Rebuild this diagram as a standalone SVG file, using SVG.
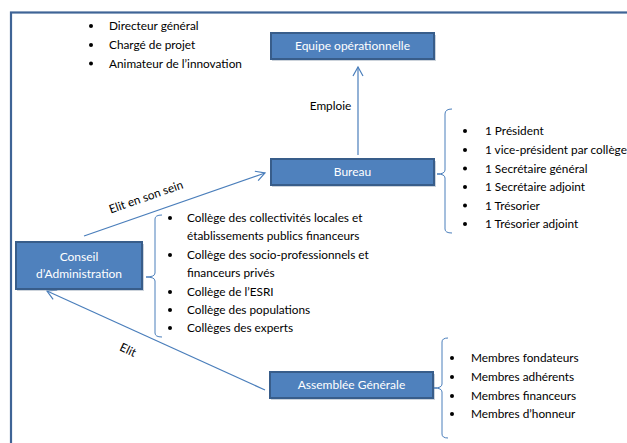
<svg xmlns="http://www.w3.org/2000/svg" width="627" height="443" viewBox="0 0 627 443">
<style>
.box{fill:#4F81BD;stroke:#385D8A;stroke-width:2}
.shadow{fill:#9aa8b8;opacity:0.5}
.bt{font-family:Lato,"Liberation Sans",sans-serif;font-size:12px;fill:#ffffff;text-anchor:middle}
.t{font-family:Lato,"Liberation Sans",sans-serif;font-size:11.8px;fill:#000000}
.lbl{font-family:Lato,"Liberation Sans",sans-serif;font-size:11.8px;fill:#000000}
.con{fill:none;stroke:#4A7EBB;stroke-width:1.2}
.br{fill:none;stroke:#4A7EBB;stroke-width:1}
.dot{fill:#000000}
</style>
<defs>
<marker id="arr" markerWidth="12" markerHeight="12" refX="10" refY="6" orient="auto" markerUnits="userSpaceOnUse">
<path d="M1,1 L10,6 L1,11" fill="none" stroke="#4A7EBB" stroke-width="1.2"/>
</marker>
</defs>
<rect width="627" height="443" fill="#ffffff"/>
<rect x="11" y="12.5" width="700" height="500" fill="none" stroke="#3F6496" stroke-width="2.2"/>

<g id="connectors">
<line class="con" x1="358" y1="155" x2="358" y2="67" marker-end="url(#arr)"/>
<line class="con" x1="84" y1="236" x2="265" y2="173" marker-end="url(#arr)"/>
<line class="con" x1="265" y1="390" x2="47" y2="291" marker-end="url(#arr)"/>
<text class="lbl" x="330.5" y="110" text-anchor="middle">Emploie</text>
<text class="lbl" x="146" y="201" text-anchor="middle" transform="rotate(-19.2 146 197)">Elit en son sein</text>
<text class="lbl" x="128" y="354" text-anchor="middle" transform="rotate(25 128 350)">Elit</text>
</g>

<g id="equipe">
<rect class="shadow" x="272" y="35" width="164" height="26"/>
<rect class="box" x="271" y="33" width="163" height="26"/>
<text class="bt" x="352.5" y="50">Equipe opérationnelle</text>
</g>

<g id="bureau">
<rect class="shadow" x="272" y="161" width="164" height="26"/>
<rect class="box" x="271" y="159" width="163" height="26"/>
<text class="bt" x="352.5" y="176">Bureau</text>
</g>

<g id="conseil">
<rect class="shadow" x="17" y="244" width="127" height="47"/>
<rect class="box" x="16" y="242" width="126" height="47"/>
<text class="bt" x="79" y="261">Conseil</text>
<text class="bt" x="79" y="278">d’Administration</text>
</g>

<g id="assemblee">
<rect class="shadow" x="271" y="374" width="164" height="26"/>
<rect class="box" x="270" y="372" width="163" height="26"/>
<text class="bt" x="351.5" y="389">Assemblée Générale</text>
</g>

<g id="liste-equipe">
<circle class="dot" cx="91" cy="26" r="2"/>
<circle class="dot" cx="91" cy="45" r="2"/>
<circle class="dot" cx="91" cy="63.5" r="2"/>
<text class="t" x="109" y="30">Directeur général</text>
<text class="t" x="109" y="49">Chargé de projet</text>
<text class="t" x="109" y="67.5">Animateur de l’innovation</text>
</g>

<g id="liste-bureau">
<path class="br" d="M452,109 Q445,109 445,114 L445,170 Q445,174 437,174 Q445,174 445,178 L445,229 Q445,233 452,233"/>
<circle class="dot" cx="465" cy="131" r="2"/>
<circle class="dot" cx="465" cy="150" r="2"/>
<circle class="dot" cx="465" cy="168.5" r="2"/>
<circle class="dot" cx="465" cy="187" r="2"/>
<circle class="dot" cx="465" cy="205.5" r="2"/>
<circle class="dot" cx="465" cy="224" r="2"/>
<text class="t" x="485" y="135">1 Président</text>
<text class="t" x="485" y="154">1 vice-président par collège</text>
<text class="t" x="485" y="172.5">1 Secrétaire général</text>
<text class="t" x="485" y="191">1 Secrétaire adjoint</text>
<text class="t" x="485" y="209.5">1 Trésorier</text>
<text class="t" x="485" y="228">1 Trésorier adjoint</text>
</g>

<g id="liste-conseil">
<path class="br" d="M162,215 Q155,215 155,219 L155,273 Q155,277 146,277 Q155,277 155,281 L155,333 Q155,337 162,337"/>
<circle class="dot" cx="170" cy="218" r="2"/>
<circle class="dot" cx="170" cy="255" r="2"/>
<circle class="dot" cx="170" cy="292" r="2"/>
<circle class="dot" cx="170" cy="310" r="2"/>
<circle class="dot" cx="170" cy="328" r="2"/>
<text class="t" x="187" y="222">Collège des collectivités locales et</text>
<text class="t" x="187" y="240">établissements publics financeurs</text>
<text class="t" x="187" y="259">Collège des socio-professionnels et</text>
<text class="t" x="187" y="277">financeurs privés</text>
<text class="t" x="187" y="296">Collège de l’ESRI</text>
<text class="t" x="187" y="314">Collège des populations</text>
<text class="t" x="187" y="332">Collèges des experts</text>
</g>

<g id="liste-assemblee">
<path class="br" d="M448,338 Q442,338 442,342 L442,384 Q442,388 434,388 Q442,388 442,392 L442,434 Q442,438 448,438"/>
<circle class="dot" cx="452" cy="358" r="2"/>
<circle class="dot" cx="452" cy="377" r="2"/>
<circle class="dot" cx="452" cy="396" r="2"/>
<circle class="dot" cx="452" cy="414" r="2"/>
<text class="t" x="471" y="362">Membres fondateurs</text>
<text class="t" x="471" y="381">Membres adhérents</text>
<text class="t" x="471" y="400">Membres financeurs</text>
<text class="t" x="471" y="418">Membres d’honneur</text>
</g>
</svg>
